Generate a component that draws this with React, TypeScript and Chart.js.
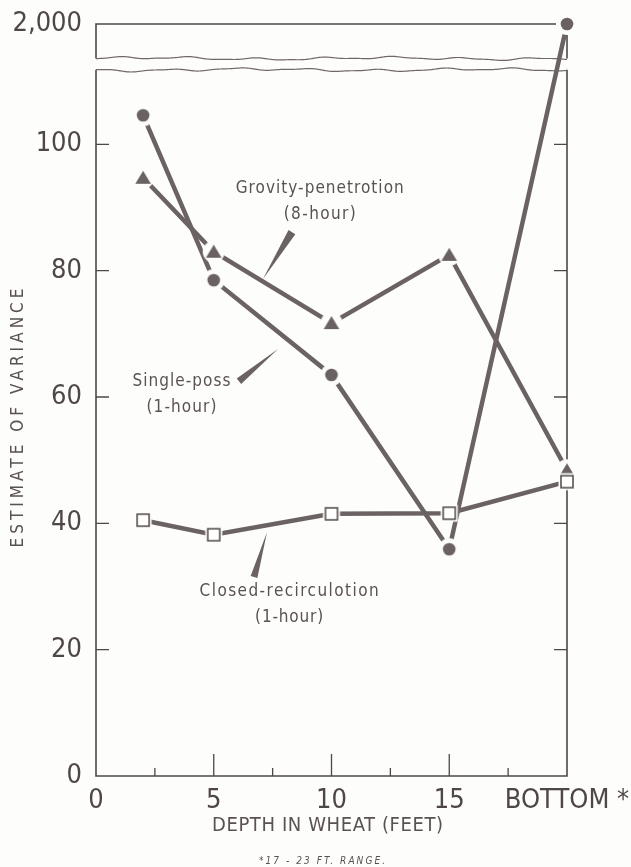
import React, { useEffect, useRef } from "react";
import { Chart, registerables } from "chart.js";

Chart.register(...registerables);

// ---- data ----
const depths = [2, 5, 10, 15, 20]; // 20 = "BOTTOM" (17-23 ft range)
const xTickValues = [0, 5, 10, 15, 20];
const xTickLabels = ["0", "5", "10", "15", "BOTTOM *"];
const yTickValues = [0, 20, 40, 60, 80, 100];
const singlePass = [104.6, 78.5, 63.5, 35.9, 2000];
const gravityPenetration = [94.7, 83.0, 71.7, 82.5, 48.4];
const closedRecirculation = [40.5, 38.2, 41.5, 41.6, 46.6];

// broken axis: values above the break are drawn at the top of the upper panel
const BROKEN_VALUE = 2000;
const Y_AXIS_MAX = 119.05;
const BREAK_LOW = 111.8;
const BREAK_HIGH = 113.6;
const toAxis = (v: number) => (v >= 1000 ? Y_AXIS_MAX : v);

const FONT = "'DejaVu Sans Condensed', 'Liberation Sans Narrow', 'DejaVu Sans', sans-serif";
const BG = "#fdfdfb";
const INK = "#4f4746";
const LINE = "#6b6361";
const TEXT = "#5a5250";

function makeMarker(kind: "circle" | "triangle" | "square"): HTMLCanvasElement {
  const s = 24;
  const c = document.createElement("canvas");
  c.width = s;
  c.height = s;
  const g = c.getContext("2d")!;
  const m = s / 2;
  g.fillStyle = BG;
  if (kind === "square") {
    g.fillRect(m - 8.5, m - 8.5, 17, 17);
    g.fillStyle = "#ffffff";
    g.fillRect(m - 6, m - 6, 12, 12);
    g.strokeStyle = INK;
    g.lineWidth = 1.5;
    g.strokeRect(m - 6, m - 6, 12, 12);
  } else {
    g.beginPath();
    g.arc(m, m, 11, 0, Math.PI * 2);
    g.fill();
    g.fillStyle = "#6a6260";
    g.beginPath();
    if (kind === "circle") {
      g.arc(m, m, 6.3, 0, Math.PI * 2);
    } else {
      g.moveTo(m, m - 7);
      g.lineTo(m + 7.8, m + 6);
      g.lineTo(m - 7.8, m + 6);
      g.closePath();
    }
    g.fill();
  }
  return c;
}

// annotation anchors in data units
const labels = [
  { lines: ["Grovity-penetrotion", "(8-hour)"], x: 9.5, y: 90.9, widths: [168, 72] },
  { lines: ["Single-poss", "(1-hour)"], x: 3.63, y: 60.4, widths: [98, 70] },
  { lines: ["Closed-recirculotion", "(1-hour)"], x: 8.2, y: 27.15, widths: [179, 68] },
];
const wedges = [
  { bx: 8.32, by: 86.1, tx: 7.09, ty: 78.7, w: 8 },
  { bx: 6.07, by: 62.5, tx: 7.73, ty: 67.6, w: 7 },
  { bx: 6.71, by: 31.5, tx: 7.26, ty: 38.6, w: 7 },
];

function drawSpaced(ctx: CanvasRenderingContext2D, text: string, cx: number, cy: number, font: string, targetW: number) {
  ctx.font = font;
  (ctx as any).letterSpacing = "0px";
  const w = ctx.measureText(text).width;
  const ls = Math.max(0, (targetW - w) / Math.max(1, text.length - 1));
  (ctx as any).letterSpacing = ls + "px";
  ctx.textAlign = "left";
  ctx.textBaseline = "middle";
  ctx.fillText(text, cx - targetW / 2, cy);
  (ctx as any).letterSpacing = "0px";
}

function wavy(ctx: CanvasRenderingContext2D, x0: number, x1: number, y: number, phase: number) {
  ctx.beginPath();
  for (let x = x0; x <= x1; x += 1) {
    const dy = 1.0 * Math.sin(x / 11 + phase) + 0.8 * Math.sin(x / 37 + phase * 2) + 0.4 * Math.sin(x / 5.3 + phase);
    if (x === x0) ctx.moveTo(x, y + dy);
    else ctx.lineTo(x, y + dy);
  }
  ctx.stroke();
}

const decor = {
  id: "decor",
  beforeDraw(chart: any) {
    const ctx = chart.ctx;
    ctx.save();
    ctx.fillStyle = BG;
    ctx.fillRect(0, 0, chart.width, chart.height);
    ctx.restore();
  },
  beforeDatasetsDraw(chart: any) {
    const ctx: CanvasRenderingContext2D = chart.ctx;
    const xs = chart.scales.x;
    const ys = chart.scales.y;
    const { left, right, top, bottom } = chart.chartArea;
    const yLow = ys.getPixelForValue(BREAK_LOW);
    const yHigh = ys.getPixelForValue(BREAK_HIGH);
    ctx.save();
    ctx.strokeStyle = INK;
    ctx.lineWidth = 1.6;
    ctx.lineCap = "butt";
    ctx.beginPath();
    // top panel
    ctx.moveTo(left, yHigh);
    ctx.lineTo(left, top);
    ctx.lineTo(right, top);
    ctx.lineTo(right, yHigh);
    // lower panel
    ctx.moveTo(left, yLow);
    ctx.lineTo(left, bottom);
    ctx.lineTo(right, bottom);
    ctx.lineTo(right, yLow);
    ctx.stroke();
    // y ticks, both sides, inward
    ctx.lineWidth = 1.3;
    ctx.beginPath();
    for (const v of yTickValues) {
      if (v === 0) continue;
      const p = ys.getPixelForValue(v);
      ctx.moveTo(left, p);
      ctx.lineTo(left + 13, p);
      ctx.moveTo(right, p);
      ctx.lineTo(right - 13, p);
    }
    // x ticks
    for (let v = 2.5; v < 20; v += 2.5) {
      const p = xs.getPixelForValue(v);
      const major = v % 5 === 0;
      ctx.moveTo(p, bottom);
      ctx.lineTo(p, bottom - (major ? 22 : 8));
    }
    ctx.stroke();
    // break lines
    ctx.strokeStyle = "#6f6866";
    ctx.lineWidth = 1.2;
    wavy(ctx, left, right, yHigh, 0.3);
    wavy(ctx, left, right, yLow, 2.1);
    ctx.restore();
  },
  afterDraw(chart: any) {
    const ctx: CanvasRenderingContext2D = chart.ctx;
    const xs = chart.scales.x;
    const ys = chart.scales.y;
    ctx.save();
    ctx.fillStyle = TEXT;
    // annotations
    for (const l of labels) {
      const cx = xs.getPixelForValue(l.x);
      const cy = ys.getPixelForValue(l.y);
      const gap = 25.5;
      drawSpaced(ctx, l.lines[0], cx, cy - gap / 2, `17px ${FONT}`, l.widths[0]);
      drawSpaced(ctx, l.lines[1], cx, cy + gap / 2, `17px ${FONT}`, l.widths[1]);
    }
    // pointer wedges
    ctx.fillStyle = LINE;
    for (const w of wedges) {
      const bx = xs.getPixelForValue(w.bx);
      const by = ys.getPixelForValue(w.by);
      const tx = xs.getPixelForValue(w.tx);
      const ty = ys.getPixelForValue(w.ty);
      const dx = tx - bx;
      const dy = ty - by;
      const len = Math.hypot(dx, dy);
      const nx = (-dy / len) * (w.w / 2);
      const ny = (dx / len) * (w.w / 2);
      ctx.beginPath();
      ctx.moveTo(bx + nx, by + ny);
      ctx.lineTo(tx, ty);
      ctx.lineTo(bx - nx, by - ny);
      ctx.closePath();
      ctx.fill();
    }
    // axis titles
    ctx.fillStyle = TEXT;
    drawSpaced(ctx, "DEPTH IN WHEAT (FEET)", 327.5, 826, `20px ${FONT}`, 231);
    ctx.save();
    ctx.translate(19, 418);
    ctx.rotate(-Math.PI / 2);
    drawSpaced(ctx, "ESTIMATE OF VARIANCE", 0, 0, `17px ${FONT}`, 259);
    ctx.restore();
    drawSpaced(ctx, "*17 - 23 FT. RANGE.", 322, 861, `italic 10px ${FONT}`, 126);
    ctx.restore();
  },
};

export default function App() {
  const ref = useRef<HTMLCanvasElement>(null);
  useEffect(() => {
    document.body.style.margin = "0";
    const circle = makeMarker("circle");
    const triangle = makeMarker("triangle");
    const square = makeMarker("square");
    const mk = (ys: number[]) => depths.map((d, i) => ({ x: d, y: toAxis(ys[i]) }));
    const common = {
      borderColor: LINE,
      borderWidth: 4.5,
      borderCapStyle: "butt",
      pointRadius: 6,
      pointHoverRadius: 6,
      fill: false,
      tension: 0,
      clip: false,
    };
    const chart = new Chart(ref.current!, {
      type: "line",
      data: {
        datasets: [
          { ...common, label: "Closed-recirculation (1-hour)", data: mk(closedRecirculation), pointStyle: square, order: 0 } as any,
          { ...common, label: "Gravity-penetration (8-hour)", data: mk(gravityPenetration), pointStyle: triangle, order: 1 } as any,
          { ...common, label: "Single-pass (1-hour)", data: mk(singlePass), pointStyle: circle, order: 2 } as any,
        ],
      },
      options: {
        animation: false,
        responsive: false,
        events: [],
        layout: { padding: { left: 0, right: 64, top: 24, bottom: 0 } },
        plugins: { legend: { display: false }, tooltip: { enabled: false } },
        scales: {
          x: {
            type: "linear",
            min: 0,
            max: 20,
            afterBuildTicks: (s: any) => {
              s.ticks = xTickValues.map((v) => ({ value: v }));
            },
            afterFit: (s: any) => {
              s.height = 91;
              s.paddingLeft = 0;
              s.paddingRight = 0;
            },
            ticks: {
              autoSkip: false,
              maxRotation: 0,
              padding: 9,
              color: INK,
              font: { family: FONT, size: 27 },
              callback: (_v: any, i: number) => xTickLabels[i],
            },
            grid: { display: false, drawTicks: false },
            border: { display: false },
          },
          y: {
            type: "linear",
            min: 0,
            max: Y_AXIS_MAX,
            afterBuildTicks: (s: any) => {
              s.ticks = [...yTickValues, Y_AXIS_MAX].map((v) => ({ value: v }));
            },
            afterFit: (s: any) => {
              s.width = 96;
              s.paddingTop = 0;
              s.paddingBottom = 0;
            },
            ticks: {
              autoSkip: false,
              padding: 14,
              color: INK,
              font: { family: FONT, size: 27 },
              callback: (v: any) => (v === Y_AXIS_MAX ? BROKEN_VALUE.toLocaleString("en-US") : String(v)),
            },
            grid: { display: false, drawTicks: false },
            border: { display: false },
          },
        },
      } as any,
      plugins: [decor],
    });
    return () => chart.destroy();
  }, []);
  return (
    <div style={{ width: 631, height: 867 }}>
      <canvas ref={ref} width={631} height={867} style={{ width: 631, height: 867, display: "block" }} />
    </div>
  );
}
